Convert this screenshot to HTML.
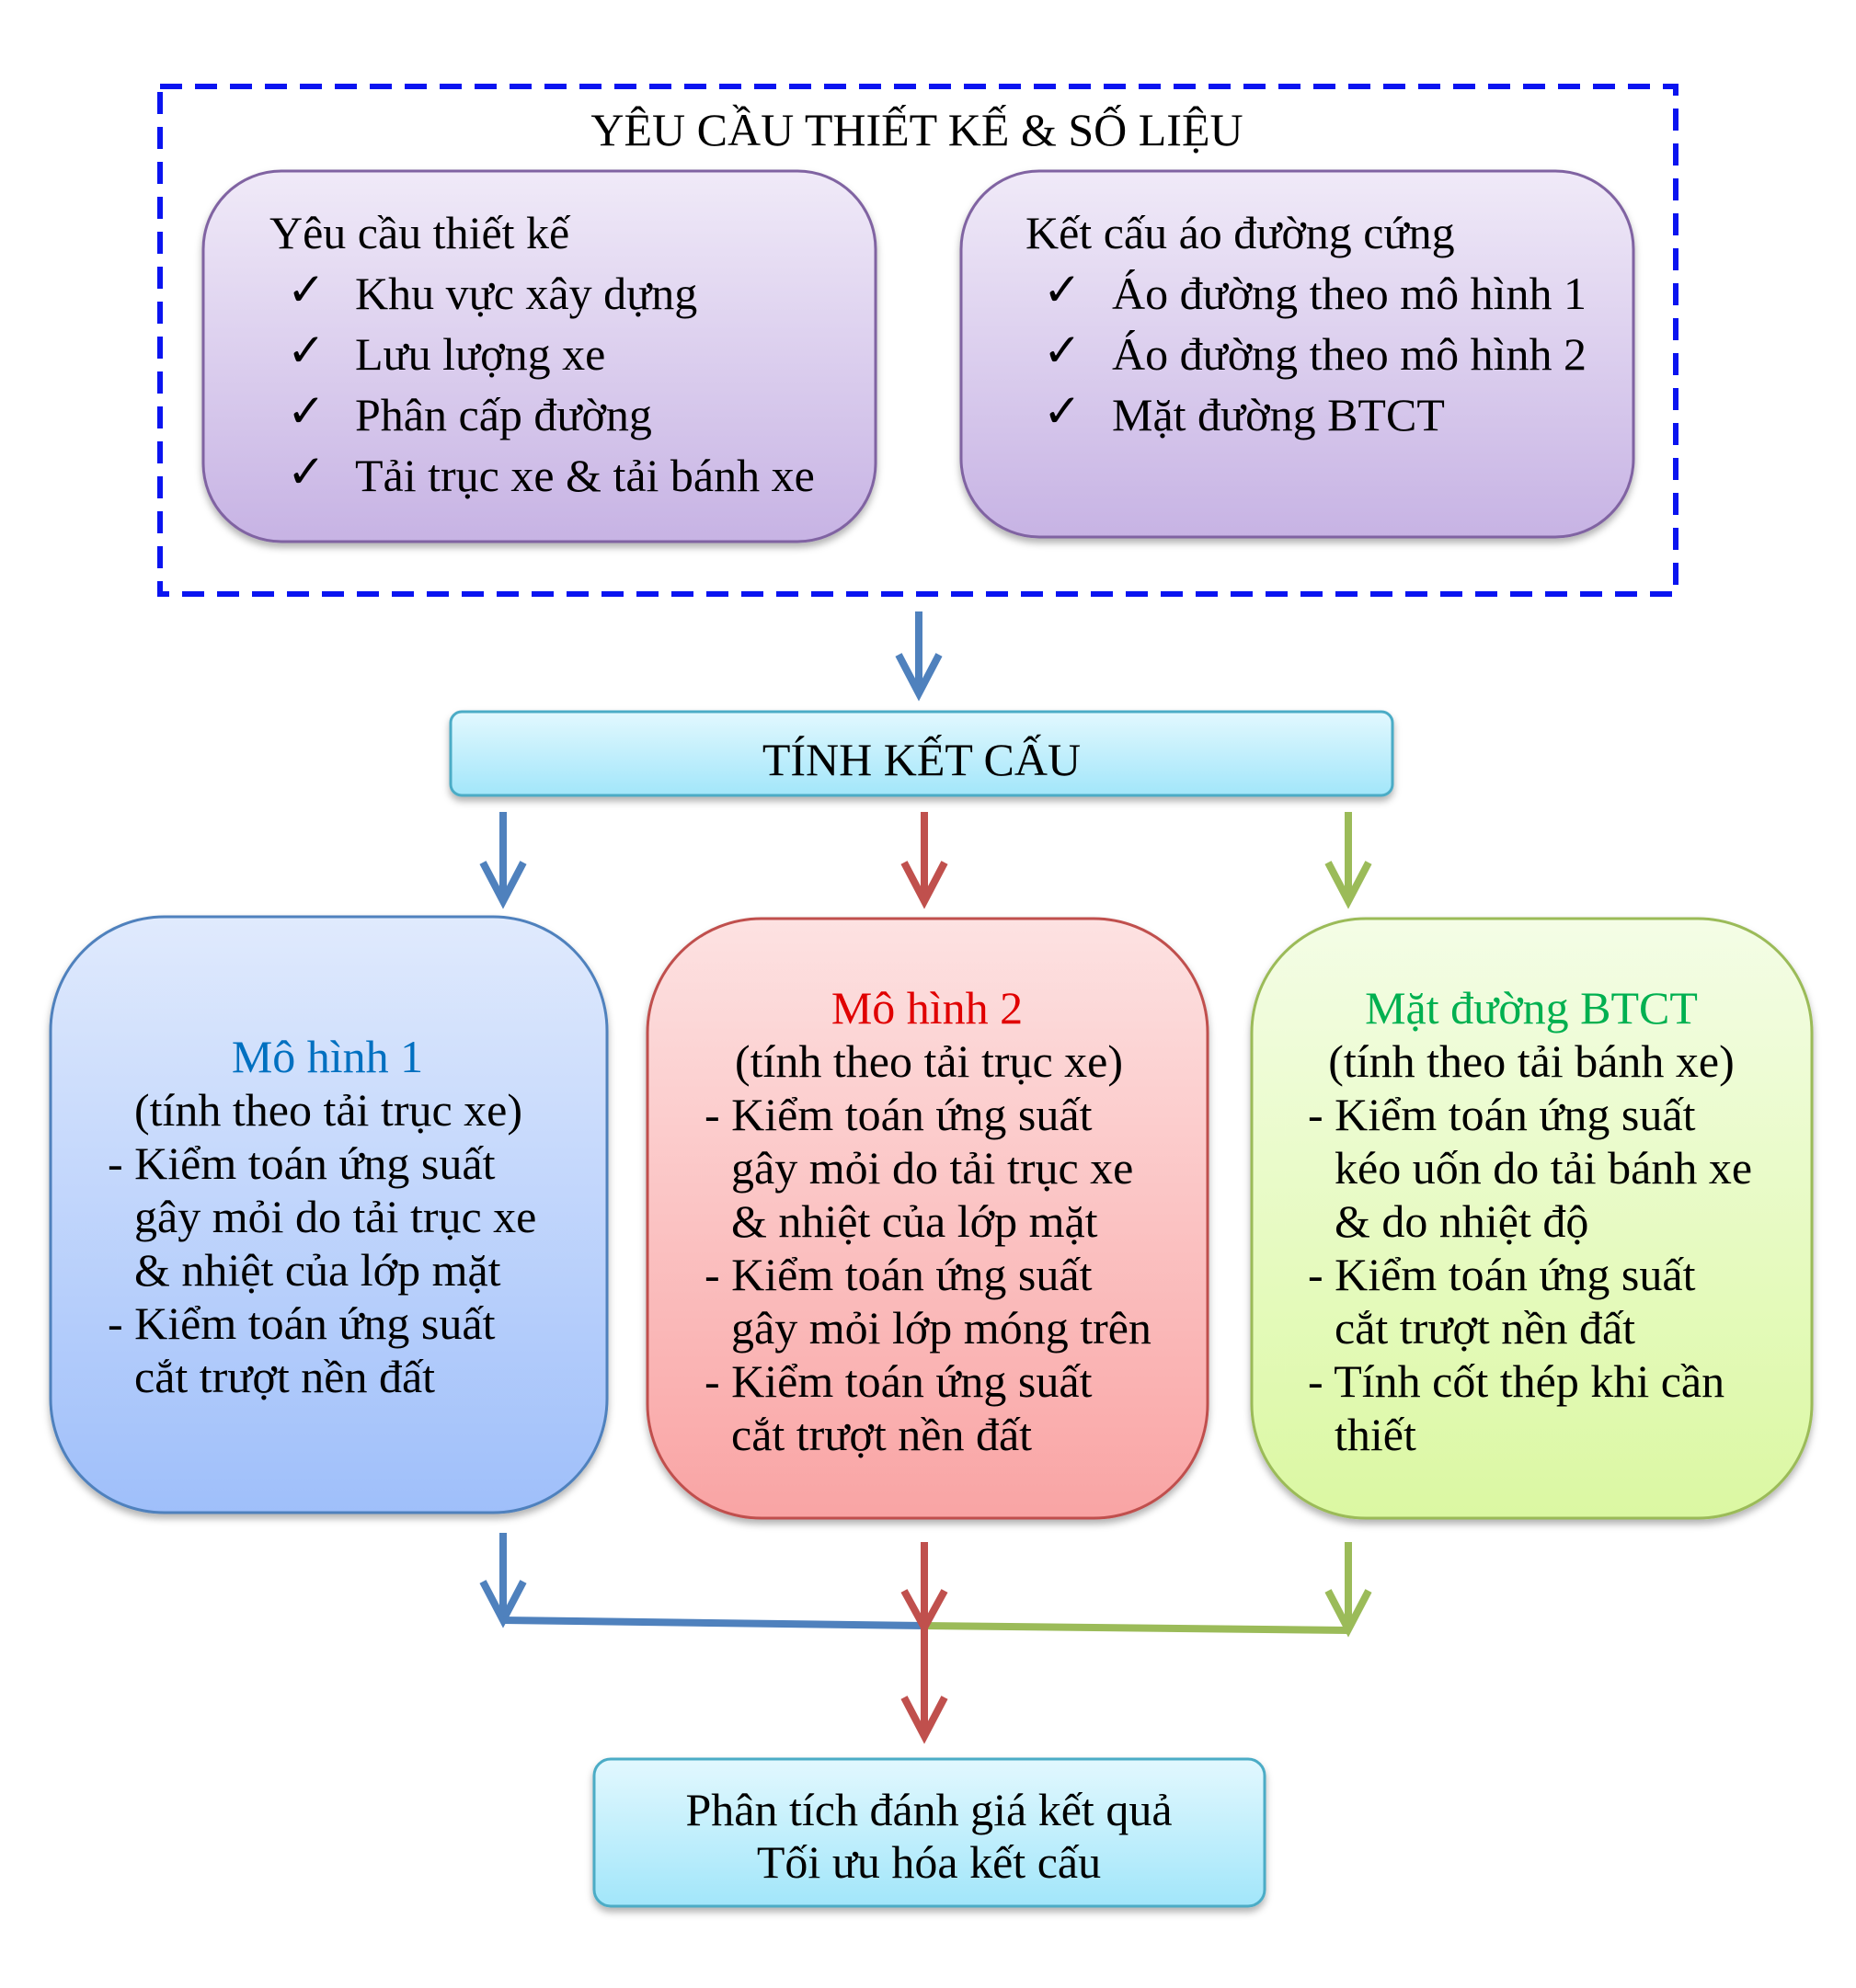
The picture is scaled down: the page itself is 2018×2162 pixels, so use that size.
<!DOCTYPE html>
<html><head><meta charset="utf-8"><style>
html,body{margin:0;padding:0;background:#fff}
svg{display:block}
text{font-family:"Liberation Serif","Times New Roman",serif;font-size:50px;fill:#000}
</style></head><body>
<svg width="2018" height="2162" viewBox="0 0 2018 2162" xmlns="http://www.w3.org/2000/svg">
<defs>
<linearGradient id="gp" x1="0" y1="0" x2="0" y2="1"><stop offset="0" stop-color="#f0eaf8"/><stop offset="1" stop-color="#c7b3e4"/></linearGradient>
<linearGradient id="gb" x1="0" y1="0" x2="0" y2="1"><stop offset="0" stop-color="#e0eafd"/><stop offset="1" stop-color="#9fbffa"/></linearGradient>
<linearGradient id="gr" x1="0" y1="0" x2="0" y2="1"><stop offset="0" stop-color="#fde2e2"/><stop offset="1" stop-color="#f9a4a4"/></linearGradient>
<linearGradient id="gg" x1="0" y1="0" x2="0" y2="1"><stop offset="0" stop-color="#f4fde6"/><stop offset="1" stop-color="#dbf8a2"/></linearGradient>
<linearGradient id="gc" x1="0" y1="0" x2="0" y2="1"><stop offset="0" stop-color="#e2f8fe"/><stop offset="1" stop-color="#a2e6fa"/></linearGradient>
<filter id="sh" x="-10%" y="-10%" width="120%" height="130%"><feDropShadow dx="0" dy="5" stdDeviation="4" flood-color="#000" flood-opacity="0.3"/></filter>
</defs>

<rect x="174" y="94" width="1648" height="552" fill="none" stroke="#0a14f0" stroke-width="6" stroke-dasharray="24,14"/>
<text x="997" y="158" text-anchor="middle">YÊU CẦU THIẾT KẾ &amp; SỐ LIỆU</text>

<rect x="221" y="186" width="731" height="403" rx="85" fill="url(#gp)" stroke="#8064a2" stroke-width="3" filter="url(#sh)"/>
<rect x="1045" y="186" width="731" height="398" rx="85" fill="url(#gp)" stroke="#8064a2" stroke-width="3" filter="url(#sh)"/>
<text x="293" y="270">Yêu cầu thiết kế</text>
<text x="312" y="332">✓</text><text x="386" y="336">Khu vực xây dựng</text>
<text x="312" y="398">✓</text><text x="386" y="402">Lưu lượng xe</text>
<text x="312" y="464">✓</text><text x="386" y="468">Phân cấp đường</text>
<text x="312" y="530">✓</text><text x="386" y="534">Tải trục xe &amp; tải bánh xe</text>
<text x="1115" y="270">Kết cấu áo đường cứng</text>
<text x="1134" y="332">✓</text><text x="1209" y="336">Áo đường theo mô hình 1</text>
<text x="1134" y="398">✓</text><text x="1209" y="402">Áo đường theo mô hình 2</text>
<text x="1134" y="464">✓</text><text x="1209" y="468">Mặt đường BTCT</text>

<rect x="490" y="774" width="1024" height="91" rx="12" fill="url(#gc)" stroke="#4bacc6" stroke-width="3" filter="url(#sh)"/>
<text x="1002" y="843" text-anchor="middle">TÍNH KẾT CẤU</text>

<rect x="55" y="997" width="605" height="648" rx="124" fill="url(#gb)" stroke="#4f81bd" stroke-width="3" filter="url(#sh)"/>
<rect x="704" y="999" width="609" height="652" rx="124" fill="url(#gr)" stroke="#c0504d" stroke-width="3" filter="url(#sh)"/>
<rect x="1361" y="999" width="609" height="652" rx="124" fill="url(#gg)" stroke="#9bbb59" stroke-width="3" filter="url(#sh)"/>

<g>
<text x="356" y="1166" text-anchor="middle" style="fill:#0070c0">Mô hình 1</text>
<text x="357" y="1224" text-anchor="middle">(tính theo tải trục xe)</text>
<text x="117" y="1282">- Kiểm toán ứng suất</text>
<text x="146" y="1340">gây mỏi do tải trục xe</text>
<text x="146" y="1398">&amp; nhiệt của lớp mặt</text>
<text x="117" y="1456">- Kiểm toán ứng suất</text>
<text x="146" y="1514">cắt trượt nền đất</text>
</g>
<g>
<text x="1008" y="1113" text-anchor="middle" style="fill:#e00000">Mô hình 2</text>
<text x="1010" y="1171" text-anchor="middle">(tính theo tải trục xe)</text>
<text x="766" y="1229">- Kiểm toán ứng suất</text>
<text x="795" y="1287">gây mỏi do tải trục xe</text>
<text x="795" y="1345">&amp; nhiệt của lớp mặt</text>
<text x="766" y="1403">- Kiểm toán ứng suất</text>
<text x="795" y="1461">gây mỏi lớp móng trên</text>
<text x="766" y="1519">- Kiểm toán ứng suất</text>
<text x="795" y="1577">cắt trượt nền đất</text>
</g>
<g>
<text x="1665" y="1113" text-anchor="middle" style="fill:#00b050">Mặt đường BTCT</text>
<text x="1665" y="1171" text-anchor="middle">(tính theo tải bánh xe)</text>
<text x="1422" y="1229">- Kiểm toán ứng suất</text>
<text x="1451" y="1287">kéo uốn do tải bánh xe</text>
<text x="1451" y="1345">&amp; do nhiệt độ</text>
<text x="1422" y="1403">- Kiểm toán ứng suất</text>
<text x="1451" y="1461">cắt trượt nền đất</text>
<text x="1422" y="1519">- Tính cốt thép khi cần</text>
<text x="1451" y="1577">thiết</text>
</g>

<rect x="646" y="1913" width="729" height="160" rx="18" fill="url(#gc)" stroke="#4bacc6" stroke-width="3" filter="url(#sh)"/>
<text x="1010" y="1985" text-anchor="middle">Phân tích đánh giá kết quả</text>
<text x="1010" y="2042" text-anchor="middle">Tối ưu hóa kết cấu</text>

<g fill="none" stroke-width="8" stroke-linecap="butt" stroke-linejoin="miter">
<g stroke="#4f81bd"><path d="M999 665V754"/><path d="M977 712L999 754L1021 712"/></g>
<g stroke="#4f81bd"><path d="M547 883V980"/><path d="M525 938L547 980L569 938"/></g>
<g stroke="#c0504d"><path d="M1005 883V980"/><path d="M983 938L1005 980L1027 938"/></g>
<g stroke="#9bbb59"><path d="M1466 883V980"/><path d="M1444 938L1466 980L1488 938"/></g>
<g stroke="#4f81bd"><path d="M547 1667V1762"/><path d="M525 1720L547 1762L569 1720"/><path d="M547 1762L1005 1768"/></g>
<g stroke="#9bbb59"><path d="M1466 1677V1772"/><path d="M1444 1730L1466 1772L1488 1730"/><path d="M1005 1768L1466 1773"/></g>
<g stroke="#c0504d"><path d="M1005 1677V1888"/><path d="M983 1730L1005 1770L1027 1730"/><path d="M983 1846L1005 1888L1027 1846"/></g>
</g>
</svg>
</body></html>
